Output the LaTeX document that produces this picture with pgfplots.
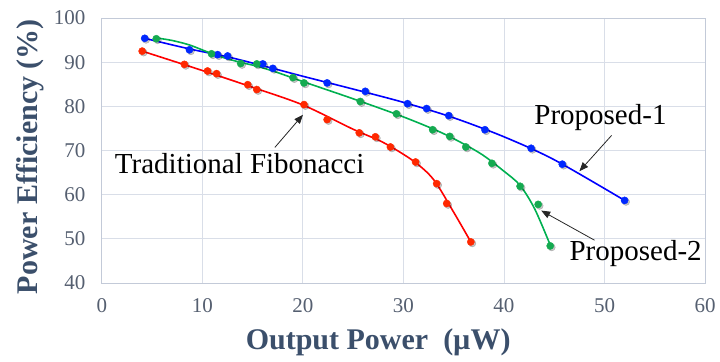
\documentclass[border=0pt]{standalone}
\usepackage{fontspec}
\setmainfont{Liberation Serif}
\usepackage{pgfplots}
\usepackage{pgfplotstable}
\pgfplotsset{compat=1.18}
\usetikzlibrary{arrows.meta}
\definecolor{gridc}{RGB}{217,222,232}
\definecolor{axc}{RGB}{195,202,216}
\definecolor{tickc}{RGB}{85,95,112}
\definecolor{labc}{RGB}{59,79,107}
\definecolor{pblue}{RGB}{0,0,255}
\definecolor{pgreen}{RGB}{0,176,80}
\definecolor{pred}{RGB}{255,0,0}
\definecolor{mred}{RGB}{255,40,0}
\definecolor{mblue}{RGB}{0,40,255}
\definecolor{mgreen}{RGB}{20,170,80}

% measured points
\pgfplotstableread{
x y
4.25 95.4
8.7 92.8
11.5 91.7
12.5 91.4
16.0 89.6
17.0 88.6
22.4 85.3
26.2 83.4
30.4 80.6
32.3 79.5
34.5 77.9
38.1 74.7
42.7 70.5
45.8 66.9
52.0 58.7
}\propone

\pgfplotstableread{
x y
5.4 95.3
10.9 91.9
13.8 89.7
15.4 89.6
19.0 86.5
20.1 85.3
25.7 81.1
29.3 78.3
32.9 74.7
34.6 73.2
36.2 70.8
38.8 67.1
41.6 61.9
43.4 57.8
44.6 48.4
}\proptwo

\pgfplotstableread{
x y
4.0 92.5
8.2 89.5
10.5 88.0
11.4 87.4
14.5 84.9
15.4 83.8
20.1 80.4
22.4 77.0
25.6 74.0
27.2 73.1
28.7 70.8
31.2 67.4
33.3 62.5
34.3 58.0
36.7 49.3
}\tradfib

% fitted curves
\pgfplotstableread{
x y
4.25 95.4
8.7 93.0
12.7 91.1
17 88.6
20 86.8
25 83.9
30 80.9
35 77.4
40 73.1
45 67.9
52 58.7
}\oneline

\pgfplotstableread{
x y
5.4 95.5
7 94.9
8.7 93.9
10.4 92.4
12 91.1
13.7 90.0
15.4 89.1
17.4 87.7
20 85.6
25 81.7
30 77.6
34 73.8
37.6 69.4
40 65.3
41.6 62.1
43.05 56.8
44.6 48.6
}\twoline

\pgfplotstableread{
x y
4.0 92.5
10 88.1
15 84.3
20 80.3
25 74.8
28 71.8
31 67.6
33 63.4
35 56.0
36.7 49.3
}\tradline

\begin{document}
\begin{tikzpicture}
\begin{axis}[
  scale only axis, width=603bp, height=265bp,
  xmin=0, xmax=60, ymin=40, ymax=100,
  xtick={0,10,...,60}, ytick={40,50,...,100},
  grid=major, major grid style={gridc, line width=1bp},
  axis line style={axc, line width=1bp},
  major tick length=0,
  clip=false,
  /pgf/number format/assume math mode=true,
  tick label style={font=\fontsize{21bp}{25bp}\selectfont, text=tickc},
  xticklabel style={yshift=-12bp},
  yticklabel style={xshift=-13bp},
  xlabel={Output Power\ \ (µW)},
  ylabel={Power Efficiency (\%)},
  label style={font=\fontsize{30bp}{34bp}\selectfont\bfseries, text=labc},
  xlabel style={at={(axis description cs:0.458,-0.223)}, anchor=center},
  ylabel style={at={(axis description cs:-0.119,0.477)}, anchor=center, rotate=0},
]
% marker shadows
\addplot[only marks, mark=*, mark size=3.7bp, black, opacity=0.22,
  mark options={xshift=1.4bp, yshift=-1.4bp, draw=none}] table[x=x,y=y] {\propone};
\addplot[only marks, mark=*, mark size=3.7bp, black, opacity=0.22,
  mark options={xshift=1.4bp, yshift=-1.4bp, draw=none}] table[x=x,y=y] {\proptwo};
\addplot[only marks, mark=*, mark size=3.7bp, black, opacity=0.22,
  mark options={xshift=1.4bp, yshift=-1.4bp, draw=none}] table[x=x,y=y] {\tradfib};
% curves
\addplot[pblue, line width=1.6bp, smooth, no marks] table[x=x,y=y] {\oneline};
\addplot[pgreen, line width=1.6bp, smooth, no marks] table[x=x,y=y] {\twoline};
\addplot[pred, line width=1.6bp, smooth, no marks] table[x=x,y=y] {\tradline};
% markers
\addplot[only marks, mark=*, mark size=3.6bp, mark options={fill=mblue, draw=mblue}] table[x=x,y=y] {\propone};
\addplot[only marks, mark=*, mark size=3.6bp, mark options={fill=mgreen, draw=mgreen}] table[x=x,y=y] {\proptwo};
\addplot[only marks, mark=*, mark size=3.6bp, mark options={fill=mred, draw=mred}] table[x=x,y=y] {\tradfib};
% annotations
\node[font=\fontsize{29bp}{33bp}\selectfont, inner sep=0pt] at (axis cs:13.7,67.1) {Traditional Fibonacci};
\node[font=\fontsize{29bp}{33bp}\selectfont, inner sep=0pt] at (axis cs:49.6,77.5) {Proposed-1};
\node[font=\fontsize{29bp}{33bp}\selectfont, inner sep=0pt] at (axis cs:53.1,46.7) {Proposed-2};
\draw[black!85, line width=0.8bp, -{Triangle[length=9bp,width=7bp]}] (axis cs:17.2,70.7) -- (axis cs:20.0,78.1);
\draw[black!85, line width=0.8bp, -{Triangle[length=9bp,width=7bp]}] (axis cs:50.7,73.4) -- (axis cs:47.5,65.3);
\draw[black!85, line width=0.8bp, -{Triangle[length=9bp,width=7bp]}] (axis cs:49.0,49.7) -- (axis cs:43.7,56.4);
\end{axis}
\path (current axis.south west) ++(-102bp,-79bp) rectangle ++(720bp,362bp);
\end{tikzpicture}
\end{document}
